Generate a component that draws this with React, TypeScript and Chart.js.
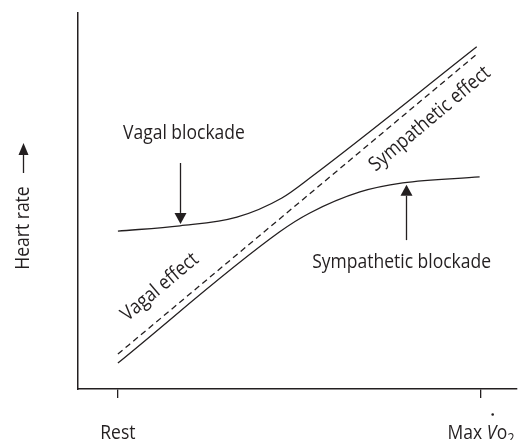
import { useEffect, useRef } from "react";
import { Chart, registerables } from "chart.js";

Chart.register(...registerables);

// ---- data (abstract units: x 0 = Rest, 100 = Max VO2; y 0..100 heart rate) ----
const xTickValues = [0, 100];
const xTickLabels = ["Rest", "Max"];

const vagalBlockadeX = [0, 17.1, 32.8, 45.2, 52.9, 98.9];
const vagalBlockadeY = [42.0, 43.4, 45.7, 50.8, 56.1, 91.0];

const controlX = [0, 98.6];
const controlY = [9.3, 88.8];

const sympatheticBlockadeX = [0, 44.6, 52.9, 66.7, 78.5, 99.7];
const sympatheticBlockadeY = [6.9, 41.8, 46.8, 52.4, 54.8, 56.4];

const labelTexts = ["Vagal blockade", "Sympathetic blockade", "Vagal effect", "Sympathetic effect"];
const labelX = [18.2, 78.2, 11.6, 86.0];
const labelY = [68.1, 33.8, 27.1, 71.8];
const labelAngle = [0, 0, -40, -40];

const arrowX = [17.1, 79.3];
const arrowFromY = [60.1, 39.6];
const arrowToY = [43.9, 54.3];

const yTitle = "Heart rate";

// ---- styles ----
const INK = "#231f20";
const FONT = '"Open Sans", "Noto Sans", sans-serif';
const FS = 20;
const XS = 0.875; // horizontal condensing of text

const toPts = (xs: number[], ys: number[]) => xs.map((x, i) => ({ x, y: ys[i] }));

function drawArrow(ctx: CanvasRenderingContext2D, x: number, y0: number, y1: number, headLen: number, headW: number) {
  const dir = y1 > y0 ? 1 : -1;
  const hb = y1 - dir * headLen;
  ctx.beginPath();
  ctx.moveTo(x, y0);
  ctx.lineTo(x, hb);
  ctx.stroke();
  ctx.beginPath();
  ctx.moveTo(x, y1);
  ctx.lineTo(x - headW / 2, hb);
  ctx.lineTo(x + headW / 2, hb);
  ctx.closePath();
  ctx.fill();
}

function condensedText(ctx: CanvasRenderingContext2D, text: string, x: number, y: number, angleDeg = 0) {
  ctx.save();
  ctx.translate(x, y);
  if (angleDeg) ctx.rotate((angleDeg * Math.PI) / 180);
  ctx.scale(XS, 1);
  ctx.fillText(text, 0, 0);
  ctx.restore();
}

const annotPlugin = {
  id: "annot",
  afterDraw(chart: any) {
    const { ctx, scales } = chart;
    const xs = scales.x;
    const ys = scales.y;
    ctx.save();
    ctx.fillStyle = INK;
    ctx.strokeStyle = INK;
    ctx.lineWidth = 1.3;

    // in-plot labels
    ctx.font = `${FS}px ${FONT}`;
    ctx.textAlign = "center";
    ctx.textBaseline = "middle";
    labelTexts.forEach((t, i) => {
      condensedText(ctx, t, xs.getPixelForValue(labelX[i]), ys.getPixelForValue(labelY[i]), labelAngle[i]);
    });

    // arrows
    arrowX.forEach((ax, i) => {
      drawArrow(ctx, Math.round(xs.getPixelForValue(ax)) + 0.5, ys.getPixelForValue(arrowFromY[i]), ys.getPixelForValue(arrowToY[i]), 11, 12);
    });

    // x tick labels
    const base = ys.bottom + 50;
    ctx.textBaseline = "alphabetic";
    ctx.textAlign = "center";
    ctx.font = `${FS}px ${FONT}`;
    condensedText(ctx, xTickLabels[0], xs.getPixelForValue(xTickValues[0]), base);

    // Max V̇o2
    const cx = xs.getPixelForValue(xTickValues[1]);
    ctx.textAlign = "left";
    const fN = `${FS}px ${FONT}`;
    const fI = `italic ${FS}px ${FONT}`;
    const fS = `${Math.round(FS * 0.68)}px ${FONT}`;
    ctx.font = fN;
    const w1 = ctx.measureText(xTickLabels[1] + " ").width * XS;
    ctx.font = fI;
    const w2 = ctx.measureText("V").width * XS;
    ctx.font = fN;
    const w3 = ctx.measureText("o").width * XS;
    ctx.font = fS;
    const w4 = ctx.measureText("2").width * XS;
    let px = cx - (w1 + w2 + w3 + w4) / 2;
    ctx.font = fN;
    condensedText(ctx, xTickLabels[1] + " ", px, base);
    px += w1;
    ctx.font = fI;
    condensedText(ctx, "V", px, base);
    ctx.beginPath();
    ctx.arc(px + w2 * 0.62, base - 24.5, 1.3, 0, Math.PI * 2);
    ctx.fill();
    px += w2 + 0.5;
    ctx.font = fN;
    condensedText(ctx, "o", px, base);
    px += w3;
    ctx.font = fS;
    condensedText(ctx, "2", px, base + 4);

    // y title with arrow
    ctx.font = `${FS}px ${FONT}`;
    ctx.textAlign = "center";
    ctx.textBaseline = "alphabetic";
    condensedText(ctx, yTitle, 29, (ys.top + ys.bottom) / 2 + 27, -90);
    drawArrow(ctx, 23.5, 173, 143, 12, 10);

    ctx.restore();
  },
};

export default function App() {
  const ref = useRef<HTMLCanvasElement | null>(null);
  useEffect(() => {
    if (!ref.current) return;
    const line = {
      borderColor: INK,
      borderWidth: 1.3,
      pointRadius: 0,
      cubicInterpolationMode: "monotone" as const,
      fill: false,
    };
    const chart = new Chart(ref.current, {
      type: "line",
      data: {
        datasets: [
          { label: "Vagal blockade", data: toPts(vagalBlockadeX, vagalBlockadeY), ...line },
          { label: "Control", data: toPts(controlX, controlY), ...line, borderDash: [6, 4] },
          { label: "Sympathetic blockade", data: toPts(sympatheticBlockadeX, sympatheticBlockadeY), ...line },
        ],
      },
      options: {
        animation: false,
        responsive: false,
        events: [],
        layout: { padding: { left: 78, right: 1, top: 13, bottom: 42 } },
        plugins: { legend: { display: false }, tooltip: { enabled: false }, title: { display: false } },
        scales: {
          x: {
            type: "linear",
            min: -11,
            max: 110,
            afterBuildTicks: (s: any) => {
              s.ticks = xTickValues.map((v) => ({ value: v }));
            },
            ticks: { display: false },
            grid: { display: true, drawOnChartArea: false, drawTicks: true, tickLength: 9, color: INK, lineWidth: 1.3 },
            border: { display: true, color: INK, width: 1.5 },
          },
          y: {
            type: "linear",
            min: 0,
            max: 100,
            ticks: { display: false },
            grid: { display: false, drawTicks: false },
            border: { display: true, color: INK, width: 1.5 },
          },
        },
      },
      plugins: [annotPlugin],
    });
    return () => chart.destroy();
  }, []);
  return (
    <div style={{ position: "absolute", left: 0, top: 0, width: 518, height: 440, background: "#fff" }}>
      <canvas ref={ref} width={518} height={440} style={{ display: "block", width: 518, height: 440 }} />
    </div>
  );
}
